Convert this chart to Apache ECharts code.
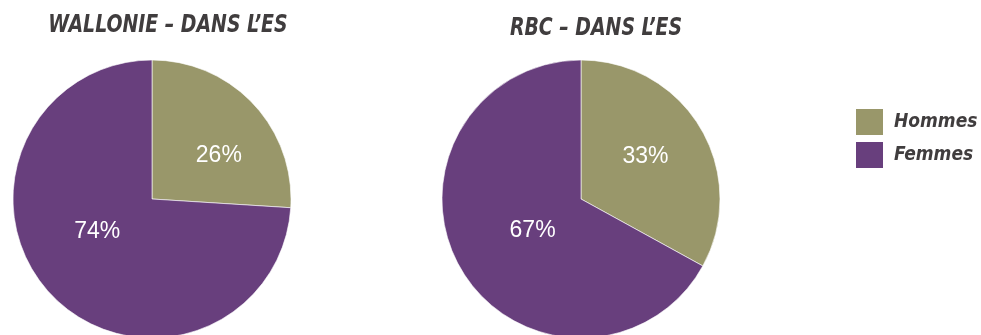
<!DOCTYPE html>
<html>
<head>
<meta charset="utf-8">
<script src="https://cdn.jsdelivr.net/npm/echarts@6/dist/echarts.min.js"></script>
<style>
  html, body { margin: 0; padding: 0; background: #fff; }
  #chart { width: 981px; height: 335px; }
</style>
</head>
<body>
<div id="chart"></div>
<script>
// data
const categories = ['Hommes', 'Femmes']
const titles = ['WALLONIE – DANS L’ES', 'RBC – DANS L’ES']
const wallonieValues = [26, 74]
const rbcValues = [33, 67]

const colors = ['#99976a', '#683f7d']
const condensedFont = "'DejaVu Sans Condensed', 'DejaVu Sans', sans-serif"

const myChart = echarts.init(document.getElementById('chart'))

const makePie = (center, values, offsets) => ({
  type: 'pie',
  center: center,
  radius: 139,
  startAngle: 90,
  clockwise: true,
  silent: true,
  itemStyle: { borderColor: '#ffffff', borderWidth: 0.6 },
  label: {
    show: true,
    position: 'inside',
    formatter: '{c}%',
    color: '#ffffff',
    fontSize: 23,
    fontFamily: "'Liberation Sans', Arial, sans-serif"
  },
  labelLine: { show: false },
  data: values.map((v, i) => ({
    value: v,
    name: categories[i],
    label: { offset: offsets[i] }
  }))
})

// titles squeezed horizontally to look like the narrow heading face
const makeTitle = (text, x, y) => ({
  type: 'text',
  x: x,
  y: y,
  scaleX: 0.84,
  silent: true,
  style: {
    text: text,
    align: 'center',
    verticalAlign: 'top',
    fill: '#403d3e',
    fontSize: 25,
    fontWeight: 'bold',
    fontStyle: 'italic',
    fontFamily: condensedFont
  }
})

const option = {
  animation: false,
  color: colors,
  graphic: [
    makeTitle(titles[0], 168, 13),
    makeTitle(titles[1], 596, 16)
  ],
  legend: {
    orient: 'vertical',
    left: 854,
    top: 107,
    padding: 0,
    icon: 'rect',
    itemWidth: 29,
    itemHeight: 28,
    itemGap: 3,
    selectedMode: false,
    data: categories,
    textStyle: {
      color: '#403d3e',
      fontSize: 19,
      fontWeight: 'bold',
      fontStyle: 'italic',
      fontFamily: condensedFont,
      padding: [0, 0, 0, 5]
    }
  },
  series: [
    makePie([152, 199], wallonieValues, [[14, 6], [-2, -17]]),
    makePie([581, 199], rbcValues, [[2, -5], [14, -5]])
  ]
}
myChart.setOption(option)
</script>
</body>
</html>
